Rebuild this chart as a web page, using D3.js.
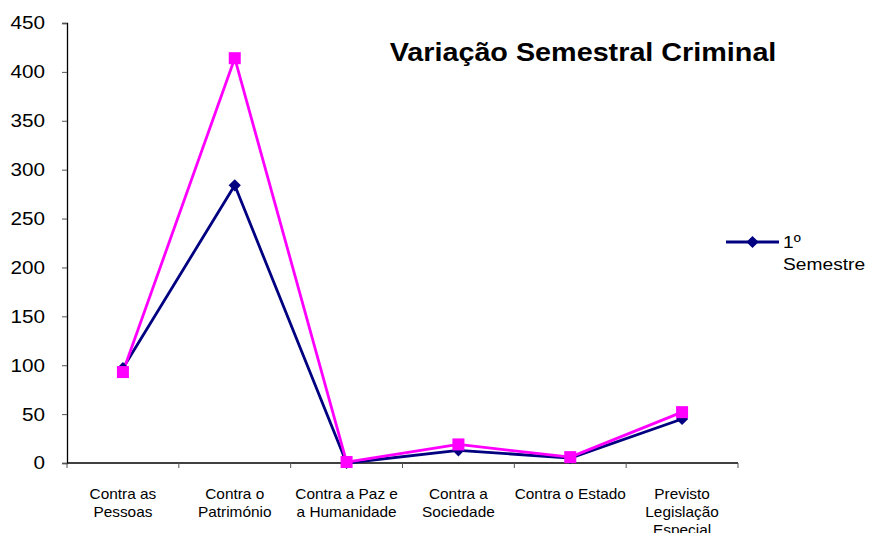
<!DOCTYPE html>
<html>
<head>
<meta charset="utf-8">
<script src="https://cdn.jsdelivr.net/npm/d3@7"></script>
<style>
  html, body { margin: 0; padding: 0; background: #fff; }
  svg { display: block; font-family: "Liberation Sans", Arial, sans-serif; }
</style>
</head>
<body>
<svg id="chart" width="869" height="533"></svg>
<script>
// Categories (each label split into lines as displayed)
const categories = [
  ["Contra as", "Pessoas"],
  ["Contra o", "Património"],
  ["Contra a Paz e", "a Humanidade"],
  ["Contra a", "Sociedade"],
  ["Contra o Estado"],
  ["Previsto", "Legislação", "Especial"]
];
const seriesNames = ["1º Semestre", "2º Semestre"];
const semestre1 = [97, 284, 0, 13, 5, 45];
const semestre2 = [93, 414, 1, 19, 6, 52];
const yTicks = [0, 50, 100, 150, 200, 250, 300, 350, 400, 450];
const titleText = "Variação Semestral Criminal";

const svg = d3.select("#chart");
const margin = { left: 67, right: 131, top: 23, bottom: 70 };
const W = 869, H = 533;
const stretch = 1.15; // horizontal widening of the lettering

const x = d3.scaleBand()
  .domain(d3.range(categories.length))
  .range([margin.left, W - margin.right]);
const y = d3.scaleLinear().domain([0, 450]).range([H - margin.bottom, margin.top]);

// Y axis
const yAxis = svg.append("g")
  .attr("transform", `translate(${margin.left},0)`)
  .call(d3.axisLeft(y).tickValues(yTicks).tickSize(5).tickFormat(d3.format("d")));
yAxis.select(".domain").attr("stroke", "#000").attr("stroke-width", 1.3);
yAxis.selectAll(".tick line").attr("stroke", "#555");
yAxis.selectAll(".tick text")
  .attr("x", null).attr("dy", "0.33em")
  .attr("font-family", "Liberation Sans, Arial, sans-serif")
  .attr("font-size", 18).attr("fill", "#000")
  .attr("text-anchor", "end")
  .attr("transform", `translate(-22,0) scale(${stretch},1)`);

// X axis with ticks at category boundaries
const xAxisG = svg.append("g").attr("transform", `translate(0,${y(0)})`);
xAxisG.append("line")
  .attr("x1", margin.left).attr("x2", W - margin.right)
  .attr("stroke", "#000").attr("stroke-width", 1.3);
const bounds = d3.range(categories.length + 1).map(i =>
  i < categories.length ? x(i) : x(categories.length - 1) + x.bandwidth());
xAxisG.selectAll("line.tk").data(bounds).join("line")
  .attr("class", "tk")
  .attr("x1", d => d).attr("x2", d => d)
  .attr("y1", 0).attr("y2", 5)
  .attr("stroke", "#555");

// Category labels
const catG = svg.append("g");
categories.forEach((lines, i) => {
  const cx = x(i) + x.bandwidth() / 2;
  lines.forEach((ln, j) => {
    catG.append("text")
      .attr("transform", `translate(${cx},${y(0) + 36 + j * 18}) scale(1.1,1)`)
      .attr("text-anchor", "middle")
      .attr("font-size", 14)
      .attr("fill", "#000")
      .text(ln);
  });
});

// Lines and markers
const cx = i => x(i) + x.bandwidth() / 2;
const line = d3.line().x((d, i) => cx(i)).y(d => y(d));
const colors = ["#000080", "#FF00FF"];
const data = [semestre1, semestre2];

data.forEach((vals, s) => {
  svg.append("path")
    .datum(vals)
    .attr("d", line)
    .attr("fill", "none")
    .attr("stroke", colors[s])
    .attr("stroke-width", 2.8)
    .attr("stroke-linejoin", "round");
});

// Diamond markers for first series
svg.append("g").selectAll("path").data(semestre1).join("path")
  .attr("d", d3.symbol().type(d3.symbolDiamond2).size(95))
  .attr("transform", (d, i) => `translate(${cx(i)},${y(d)})`)
  .attr("fill", colors[0]);

// Square markers for second series
const sq = 12;
svg.append("g").selectAll("rect").data(semestre2).join("rect")
  .attr("x", (d, i) => cx(i) - sq / 2)
  .attr("y", d => y(d) - sq / 2)
  .attr("width", sq).attr("height", sq)
  .attr("fill", colors[1]);

// Title
svg.append("text")
  .attr("transform", `translate(583,61) scale(${stretch},1)`)
  .attr("text-anchor", "middle")
  .attr("font-size", 25)
  .attr("font-weight", "bold")
  .attr("fill", "#000")
  .text(titleText);

// Legend (first series)
const lg = svg.append("g").attr("transform", "translate(726,242)");
lg.append("line").attr("x1", 0).attr("x2", 53).attr("stroke", colors[0]).attr("stroke-width", 2.8);
lg.append("path")
  .attr("d", d3.symbol().type(d3.symbolDiamond2).size(95))
  .attr("transform", "translate(26.5,0)")
  .attr("fill", colors[0]);
const nameParts = seriesNames[0].split(" ");
nameParts.forEach((p, j) => {
  lg.append("text")
    .attr("transform", `translate(57,${6 + j * 22}) scale(1.13,1)`)
    .attr("font-size", 17)
    .attr("fill", "#000")
    .text(p);
});
</script>
</body>
</html>
